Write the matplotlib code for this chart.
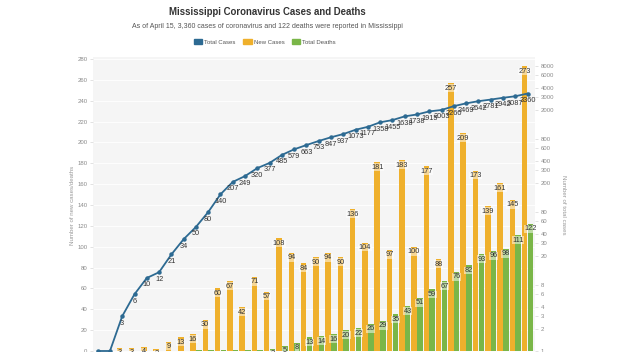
import matplotlib
matplotlib.use("Agg")
import matplotlib.pyplot as plt
import matplotlib.font_manager as fm
from matplotlib.patches import Patch
import numpy as np

# pick a narrow font if there is one
names = {f.name for f in fm.fontManager.ttflist}
narrow = 'Liberation Sans Narrow' if 'Liberation Sans Narrow' in names else 'Liberation Sans'
plt.rcParams['font.family'] = [narrow, 'DejaVu Sans']

#=====================================================================
# data, March 11 .. April 15

total_cases = [1, 1, 3, 6, 10, 12, 21, 34, 50, 80, 140, 207, 249, 320, 377, 485,
               579, 663, 753, 847, 937, 1073, 1177, 1358, 1455, 1638, 1738, 1915,
               2003, 2260, 2469, 2642, 2781, 2942, 3087, 3360]
new_cases = [0, 0, 3, 3, 4, 2, 9, 13, 16, 30, 60, 67, 42, 71, 57, 108,
             94, 84, 90, 94, 90, 136, 104, 181, 97, 183, 100, 177,
             88, 257, 209, 173, 139, 161, 145, 273]
total_deaths = [0, 0, 0, 0, 0, 0, 0, 0, 1, 1, 1, 1, 1, 1, 2, 5,
                8, 13, 14, 16, 20, 22, 26, 29, 35, 43, 51, 59,
                67, 76, 82, 93, 96, 98, 111, 122]

left_ticks = list(range(0, 281, 20))
right_ticks = [1, 2, 3, 4, 6, 8, 20, 30, 40, 60, 80, 200, 300, 400, 600, 800,
               2000, 3000, 4000, 6000, 8000]

#=====================================================================

blue = '#2d6a92'
orange = '#efb02c'
green = '#7ab648'
txt = '#333333'
grey = '#8a8a8a'

W, H = 622, 352
fig = plt.figure(figsize=(W/100, H/100), dpi=100)
fig.patch.set_facecolor('white')

ax = fig.add_axes([93/W, 0, (535-93)/W, (352-57)/H])
ax.set_facecolor('#f5f5f5')
x = np.arange(len(total_cases))

bw = 0.45
ax.bar(x - 0.235, new_cases, width=bw, color=orange, zorder=2)
ax.bar(x + 0.235, total_deaths, width=bw, color=green, zorder=2)

lab_kw = dict(textcoords='offset pixels', ha='center', va='center', fontsize=5.3,
              color=txt, zorder=4,
              bbox=dict(boxstyle='square,pad=0.05', fc='white', ec='none', alpha=0.5))
for i in range(len(x)):
    if new_cases[i] > 0:
        ax.annotate(str(new_cases[i]), (x[i] - 0.235, new_cases[i]), xytext=(0, -5), **lab_kw)
    if total_deaths[i] >= 2:
        ax.annotate(str(total_deaths[i]), (x[i] + 0.235, total_deaths[i]), xytext=(0, -5), **lab_kw)

ax.set_xlim(-0.38, 35.61)
ax.set_ylim(-1, 282)
ax.set_yticks(left_ticks)
ax.set_yticklabels([str(t) for t in left_ticks], fontsize=4.3, color=grey)
ax.tick_params(axis='y', length=2, width=0.4, color='#cccccc', pad=2)
ax.set_xticks([])
ax.grid(axis='y', color='white', linewidth=0.6, zorder=0)
for s in ax.spines.values():
    s.set_visible(False)

# total cases on a log axis
ax2 = ax.twinx()
ax2.set_yscale('log')
ax2.set_ylim(10 ** (-1/73), 10 ** (294/73))
ax2.plot(x, total_cases, color=blue, lw=1.3, marker='o', ms=2.2, zorder=5)
for i in range(len(x)):
    ax2.annotate(str(total_cases[i]), (x[i], total_cases[i]), xytext=(0, -7),
                 textcoords='offset pixels', ha='center', va='center', fontsize=5.3,
                 color=txt, zorder=6)
ax2.set_yticks(right_ticks)
ax2.set_yticklabels([str(t) for t in right_ticks], fontsize=4.3, color=grey)
ax2.minorticks_off()
ax2.tick_params(axis='y', length=2, width=0.4, color='#cccccc', pad=2)
for s in ax2.spines.values():
    s.set_visible(False)

fig.text(73/W, 1 - 205/H, 'Number of new cases/deaths', rotation=90, ha='center',
         va='center', fontsize=4.4, color='#999999')
fig.text(563/W, 1 - 205/H, 'Number of total cases', rotation=-90, ha='center',
         va='center', fontsize=4.4, color='#999999')

fig.text(267/W, 1 - 12/H, 'Mississippi Coronavirus Cases and Deaths', ha='center',
         va='center', fontsize=6.9, fontweight='bold', color=txt)
fig.text(267/W, 1 - 26/H,
         'As of April 15, 3,360 cases of coronavirus and 122 deaths were reported in Mississippi',
         ha='center', va='center', fontsize=5.0, color='#555555')

handles = [Patch(color=blue), Patch(color=orange), Patch(color=green)]
fig.legend(handles, ['Total Cases', 'New Cases', 'Total Deaths'], loc='center',
           bbox_to_anchor=(265/W, 1 - 42/H), ncol=3, frameon=False, fontsize=4.3,
           handlelength=1.4, handleheight=0.9, handletextpad=0.3, columnspacing=1.3,
           labelcolor='#555555')

fig.savefig('out.png', dpi=100)
